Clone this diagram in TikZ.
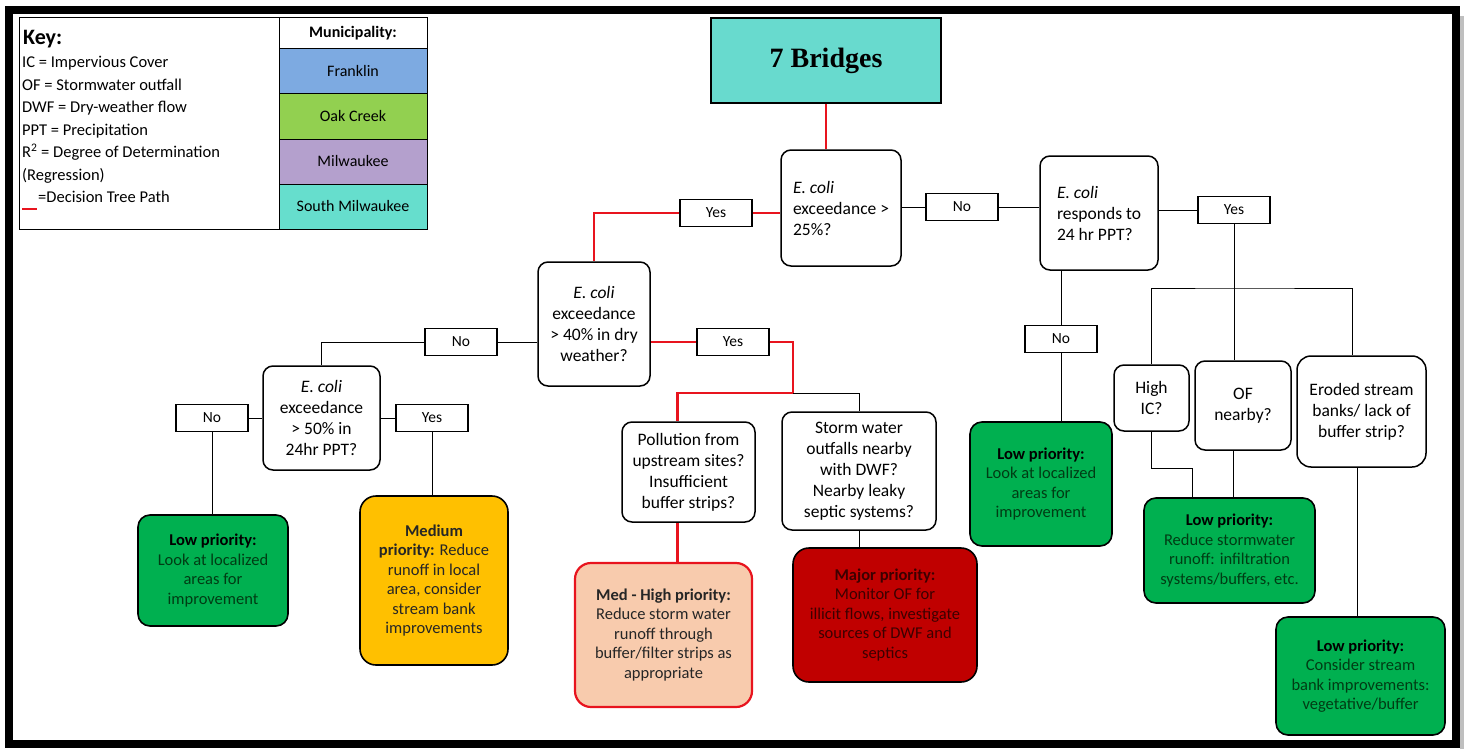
\documentclass[tikz,border=0pt]{standalone}
\usepackage{fontspec}
\setmainfont{Carlito}
\newfontfamily\bridgefont{Liberation Serif}
\usepackage{tikz}
\definecolor{franklin}{RGB}{125,170,225}
\definecolor{oakcreek}{RGB}{146,208,80}
\definecolor{milwaukee}{RGB}{180,160,205}
\definecolor{southmil}{RGB}{102,222,205}
\definecolor{bridges}{RGB}{104,218,206}
\definecolor{lowgreen}{RGB}{0,176,80}
\definecolor{lowtext}{RGB}{0,60,20}
\definecolor{medyellow}{RGB}{255,192,0}
\definecolor{medhigh}{RGB}{248,203,173}
\definecolor{major}{RGB}{192,0,0}
\definecolor{majortext}{RGB}{60,0,0}
\definecolor{pathred}{RGB}{232,20,30}

\begin{document}
\begin{tikzpicture}[x=1pt,y=-1pt,
	question/.style={draw,line width=1.5pt,rounded corners=10pt,fill=white,align=center,inner sep=2pt,font=\fontsize{17.5}{21}\selectfont},
	answer/.style={draw,line width=1.3pt,minimum width=72pt,minimum height=27pt,inner sep=0pt,font=\fontsize{15.5}{18}\selectfont},
	outcome/.style={draw,line width=1.6pt,rounded corners=12pt,align=center,inner sep=2pt,font=\fontsize{16.5}{19.5}\selectfont},
	lowbox/.style={outcome,fill=lowgreen,text=lowtext},
	muni/.style={draw,line width=1pt,minimum width=148pt,minimum height=45pt,inner sep=0pt,font=\fontsize{16}{18}\selectfont},
	link/.style={line width=0.8pt},
	treepath/.style={line width=2.4pt,draw=pathred}]
	\useasboundingbox (0,0) rectangle (1466,749);
	% frame
	\fill[black!25] (1460,16) rectangle (1464,749);
	\draw[line width=8pt] (9,10) rectangle (1456,744);

	% key
	\draw[line width=1pt] (19,18) rectangle (427,229);
	\node[muni,minimum height=31pt,font=\fontsize{16}{18}\selectfont\bfseries] (munihead) at (353,33.5) {Municipality:};
	\node[muni,fill=franklin] (franklin) at (353,71.5) {Franklin};
	\node[muni,fill=oakcreek] (oakcreek) at (353,116.5) {Oak Creek};
	\node[muni,fill=milwaukee] (milwaukee) at (353,161.5) {Milwaukee};
	\node[muni,fill=southmil] (southmil) at (353,206.5) {South Milwaukee};
	\node[anchor=west,inner sep=0pt,font=\fontsize{22}{24}\selectfont\bfseries] (keytitle) at (23,39) {Key:};
	\node[anchor=north west,align=left,inner sep=0pt,font=\fontsize{16.5}{22.5}\selectfont] (keytext) at (22,56)
		{IC = Impervious Cover\\ OF = Stormwater outfall\\ DWF = Dry-weather flow\\ PPT = Precipitation\\
		R\textsuperscript{2} = Degree of Determination\\ (Regression)\\ \hspace{16pt}=Decision Tree Path};
	\draw[treepath,line width=1.6pt] (22,209) -- (37,209);

	% questions
	\node[draw,line width=2pt,fill=bridges,minimum width=230pt,minimum height=85pt,font=\bridgefont\fontsize{28}{30}\selectfont\bfseries] (bridges) at (826,60.5) {7 Bridges};
	\node[question,align=left,minimum width=120pt,minimum height=116pt] (q1) at (841,208) {\textit{E. coli}\\exceedance >\\25\%?};
	\node[question,align=left,minimum width=118pt,minimum height=114pt] (q3) at (1099,213) {\textit{E. coli}\\responds to\\24 hr PPT?};
	\node[question,minimum width=112pt,minimum height=124pt] (q2) at (594,324) {\textit{E. coli}\\exceedance\\> 40\% in dry\\weather?};
	\node[question,minimum width=117pt,minimum height=104pt] (q4) at (321.5,418) {\textit{E. coli}\\exceedance\\> 50\% in\\24hr PPT?};
	\node[question,minimum width=133pt,minimum height=100pt] (pollution) at (688.5,472) {Pollution from\\upstream sites?\\Insufficient\\buffer strips?};
	\node[question,minimum width=154pt,minimum height=118pt] (storm) at (859,471) {Storm water\\outfalls nearby\\with DWF?\\Nearby leaky\\septic systems?};
	\node[question,minimum width=75pt,minimum height=66pt] (highic) at (1151.5,398) {High\\IC?};
	\node[question,minimum width=96pt,minimum height=89pt] (of) at (1243,405.5) {OF\\nearby?};
	\node[question,minimum width=129pt,minimum height=111pt,rounded corners=14pt] (eroded) at (1361.5,411.5) {Eroded stream\\banks/ lack of\\buffer strip?};

	% answers
	\node[answer] (yesA) at (716,213) {Yes};
	\node[answer] (noA) at (962,207) {No};
	\node[answer] (yesB) at (1234,210) {Yes};
	\node[answer] (noB) at (1061,339) {No};
	\node[answer] (noC) at (461,342) {No};
	\node[answer] (yesD) at (733,342) {Yes};
	\node[answer] (noD) at (212,418) {No};
	\node[answer] (yesC) at (432,418) {Yes};

	% outcomes
	\node[lowbox,minimum width=150pt,minimum height=111pt] (low1) at (213,570.5) {\textcolor{black}{\textbf{Low priority:}}\\Look at localized\\areas for\\improvement};
	\node[outcome,fill=medyellow,text=black!85,minimum width=148pt,minimum height=169pt,rounded corners=16pt] (medium) at (434,580.5) {\textbf{Medium}\\\textbf{priority:} Reduce\\runoff in local\\area, consider\\stream bank\\improvements};
	\node[outcome,draw=pathred,line width=2.2pt,fill=medhigh,text=black!85,minimum width=177pt,minimum height=144pt,rounded corners=16pt] (medhigh) at (663.5,635) {\textbf{Med - High priority:}\\Reduce storm water\\runoff through\\buffer/filter strips as\\appropriate};
	\node[outcome,fill=major,text=majortext,minimum width=184pt,minimum height=134pt,rounded corners=16pt] (major) at (885,615) {\textbf{Major priority:}\\Monitor OF for\\illicit flows, investigate\\sources of DWF and\\septics};
	\node[lowbox,minimum width=142pt,minimum height=124pt] (low2) at (1041,484) {\textcolor{black}{\textbf{Low priority:}}\\Look at localized\\areas for\\improvement};
	\node[lowbox,minimum width=171pt,minimum height=105pt] (low3) at (1229.5,550.5) {\textcolor{black}{\textbf{Low priority:}}\\Reduce stormwater\\runoff: infiltration\\systems/buffers, etc.};
	\node[lowbox,minimum width=169pt,minimum height=118pt] (low4) at (1360.5,676) {\textcolor{black}{\textbf{Low priority:}}\\Consider stream\\bank improvements:\\vegetative/buffer};

	% decision tree path
	\coordinate (split) at (793,393);
	\draw[treepath] (bridges.south) -- (bridges.south |- q1.north);
	\draw[treepath] (yesA.east) -- (yesA.east -| q1.west);
	\draw[treepath] (yesA.west) -| (q2.north);
	\draw[treepath] (q2.east |- yesD) -- (yesD.west);
	\draw[treepath] (yesD.east) -| (split) -| ([xshift=-11pt]pollution.north);
	\draw[treepath] ([xshift=-11pt]pollution.south) -- ([xshift=-11pt]pollution.south |- medhigh.north);

	% other branches
	\draw[link] (split) -- (storm.north |- split) -- (storm.north);
	\draw[link] (storm.south) -- (storm.south |- major.north);
	\draw[link] (q1.east |- noA) -- (noA.west);
	\draw[link] (noA.east) -- (noA.east -| q3.west);
	\draw[link] (q3.east |- yesB) -- (yesB.west);
	\draw[link] (noB.north) -- (noB.north |- q3.south);
	\draw[link] (noB.south) -- (noB.south |- low2.north);
	\coordinate (bus) at (1238,288);
	\draw[link] (yesB.south) -- (yesB.south |- of.north);
	\draw[link] (highic.north) |- (bus) -| ([xshift=-9pt]eroded.north);
	\draw[link] (highic.south) -- ++(0,37) -| ([xshift=-37pt]low3.north);
	\draw[link] ([xshift=-10pt]of.south) -- ([xshift=-10pt]of.south |- low3.north);
	\draw[link] ([xshift=-4pt]eroded.south) -- ([xshift=-4pt]eroded.south |- low4.north);
	\draw[link] (q2.west |- noC) -- (noC.east);
	\draw[link] (noC.west) -| (q4.north);
	\draw[link] (q4.west |- noD) -- (noD.east);
	\draw[link] (noD.south) -- (noD.south |- low1.north);
	\draw[link] (q4.east |- yesC) -- (yesC.west);
	\draw[link] (yesC.south) -- (yesC.south |- medium.north);
\end{tikzpicture}
\end{document}
